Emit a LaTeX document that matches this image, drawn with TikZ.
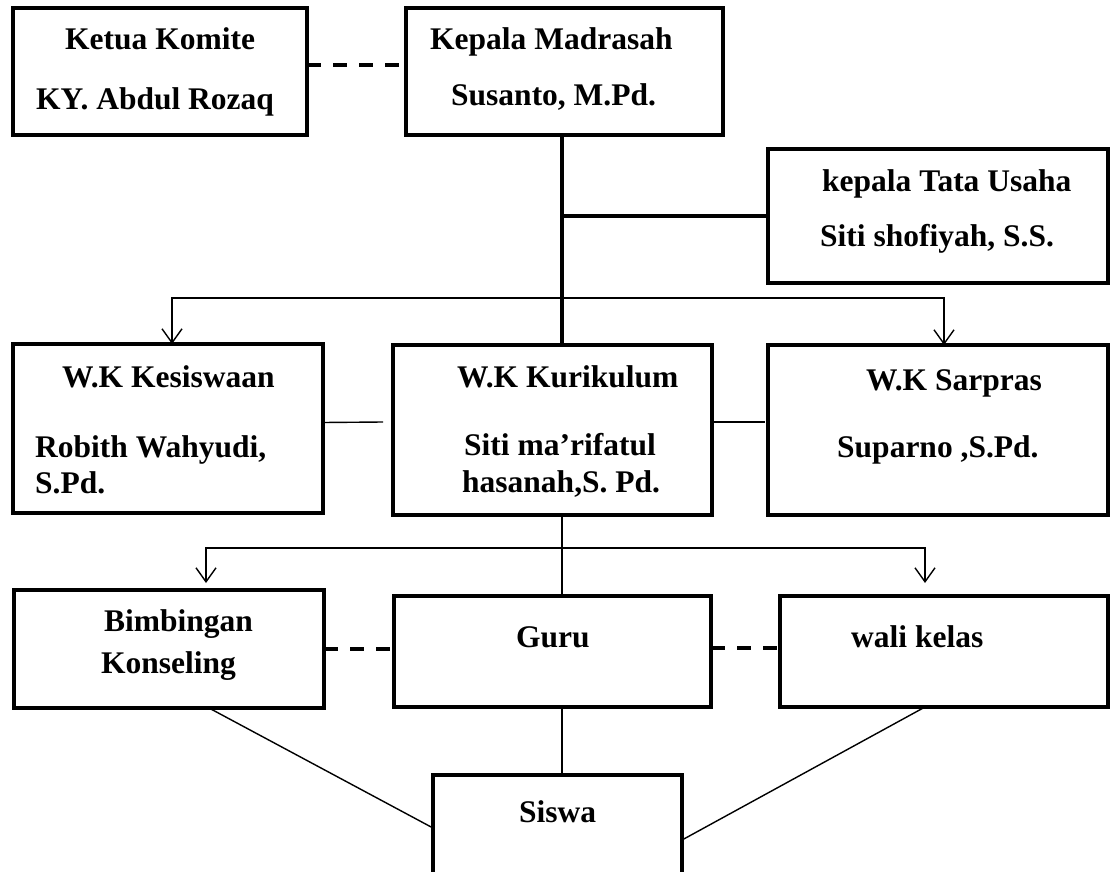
\documentclass[tikz,border=0pt]{standalone}
\usepackage{fontspec}
\setmainfont{Liberation Serif}
\usetikzlibrary{arrows.meta,calc}

\begin{document}
\begin{tikzpicture}[x=1pt,y=-1pt,>={Straight Barb[length=14pt,width=20pt]},
                    box/.style={draw,line width=3.2pt,anchor=north west,inner sep=0pt,outer sep=0pt},
                    lbl/.style={anchor=base west,inner sep=0pt,font=\fontsize{31.5}{36}\selectfont\bfseries},
                    bold/.style={line width=3.2pt},
                    fine/.style={line width=1.4pt},
                    dash line/.style={line width=4pt,dash pattern=on 14pt off 12pt}]
                    \useasboundingbox (0,0) rectangle (1111,872);
                    \clip (0,0) rectangle (1111,872);

                    \node[box,minimum width=294pt,minimum height=127pt] (ketua) at (13,8) {};
                    \node[box,minimum width=317pt,minimum height=127pt] (kepala) at (406,8) {};
                    \node[box,minimum width=340pt,minimum height=134pt] (tu) at (768,149) {};
                    \node[box,minimum width=310pt,minimum height=169pt] (kesis) at (13,344) {};
                    \node[box,minimum width=319pt,minimum height=170pt] (kurik) at (393,345) {};
                    \node[box,minimum width=340pt,minimum height=170pt] (sarpras) at (768,345) {};
                    \node[box,minimum width=310pt,minimum height=118pt] (bk) at (14,590) {};
                    \node[box,minimum width=317pt,minimum height=111pt] (guru) at (394,596) {};
                    \node[box,minimum width=328pt,minimum height=111pt] (wali) at (780,596) {};
                    \node[box,minimum width=249pt,minimum height=130pt] (siswa) at (433,775) {};

                    \node[lbl] (ketua1) at ($(ketua.north west)+(52,42)$) {Ketua Komite};
                    \node[lbl] (ketua2) at ($(ketua.north west)+(23,102)$) {KY. Abdul Rozaq};
                    \node[lbl] (kepala1) at ($(kepala.north west)+(24,42)$) {Kepala Madrasah};
                    \node[lbl] (kepala2) at ($(kepala.north west)+(45,98)$) {Susanto, M.Pd.};
                    \node[lbl] (tu1) at ($(tu.north west)+(54,42)$) {kepala Tata Usaha};
                    \node[lbl] (tu2) at ($(tu.north west)+(52,97)$) {Siti shofiyah, S.S.};
                    \node[lbl] (kesis1) at ($(kesis.north west)+(49,43)$) {W.K Kesiswaan};
                    \node[lbl] (kesis2) at ($(kesis.north west)+(22,113)$) {Robith Wahyudi,};
                    \node[lbl] (kesis3) at ($(kesis.north west)+(22,149)$) {S.Pd.};
                    \node[lbl] (kurik1) at ($(kurik.north west)+(64,42)$) {W.K Kurikulum};
                    \node[lbl] (kurik2) at ($(kurik.north west)+(71,110)$) {Siti ma’rifatul};
                    \node[lbl] (kurik3) at ($(kurik.north west)+(69,147)$) {hasanah,S. Pd.};
                    \node[lbl] (sarpras1) at ($(sarpras.north west)+(98,45)$) {W.K Sarpras};
                    \node[lbl] (sarpras2) at ($(sarpras.north west)+(69,112)$) {Suparno ,S.Pd.};
                    \node[lbl] (bk1) at ($(bk.north west)+(90,41)$) {Bimbingan};
                    \node[lbl] (bk2) at ($(bk.north west)+(87,83)$) {Konseling};
                    \node[lbl] (guru1) at ($(guru.north west)+(122,51)$) {Guru};
                    \node[lbl] (wali1) at ($(wali.north west)+(71,51)$) {wali kelas};
                    \node[lbl] (siswa1) at ($(siswa.north west)+(86,47)$) {Siswa};

                    \coordinate (spine) at (562,216);
                    \coordinate (split) at (562,298);
                    \coordinate (split2) at (562,548);

                    \draw[dash line] ($(ketua.east)+(0,-6)$) -- ($(kepala.west)+(0,-6)$);
                    \draw[bold] (spine |- kepala.south) -- (spine |- kurik.north);
                    \draw[bold] (spine) -- (tu.west);

                    \draw[fine,->] (split) -| ($(kesis.north)+(4,0)$);
                    \draw[fine,->] (split) -| ($(sarpras.north)+(6,0)$);
                    \draw[fine] ($(kesis.east)+(0,-6)$) -- ($(kurik.west)+(-10,-8)$);
                    \draw[fine] ($(kurik.east)+(0,-8)$) -- ($(sarpras.west)+(-3,-8)$);

                    \draw[fine] (split2 |- kurik.south) -- (split2 |- guru.north);
                    \draw[fine,->] (split2) -| ($(bk.north)+(37,-7)$);
                    \draw[fine,->] (split2) -| ($(wali.north)+(-19,-13)$);
                    \draw[dash line] (bk.east) -- (bk.east -| guru.west);
                    \draw[dash line] ($(guru.east)+(0,-4)$) -- ($(wali.west)+(0,-4)$);

                    \draw[fine] (split2 |- guru.south) -- (split2 |- siswa.north);
                    \draw[fine] ($(bk.south)+(40,0)$) -- ($(siswa.west)+(0,-12)$);
                    \draw[fine] ($(wali.south)+(-19,0)$) -- (siswa.east);
                \end{tikzpicture}
\end{document}
